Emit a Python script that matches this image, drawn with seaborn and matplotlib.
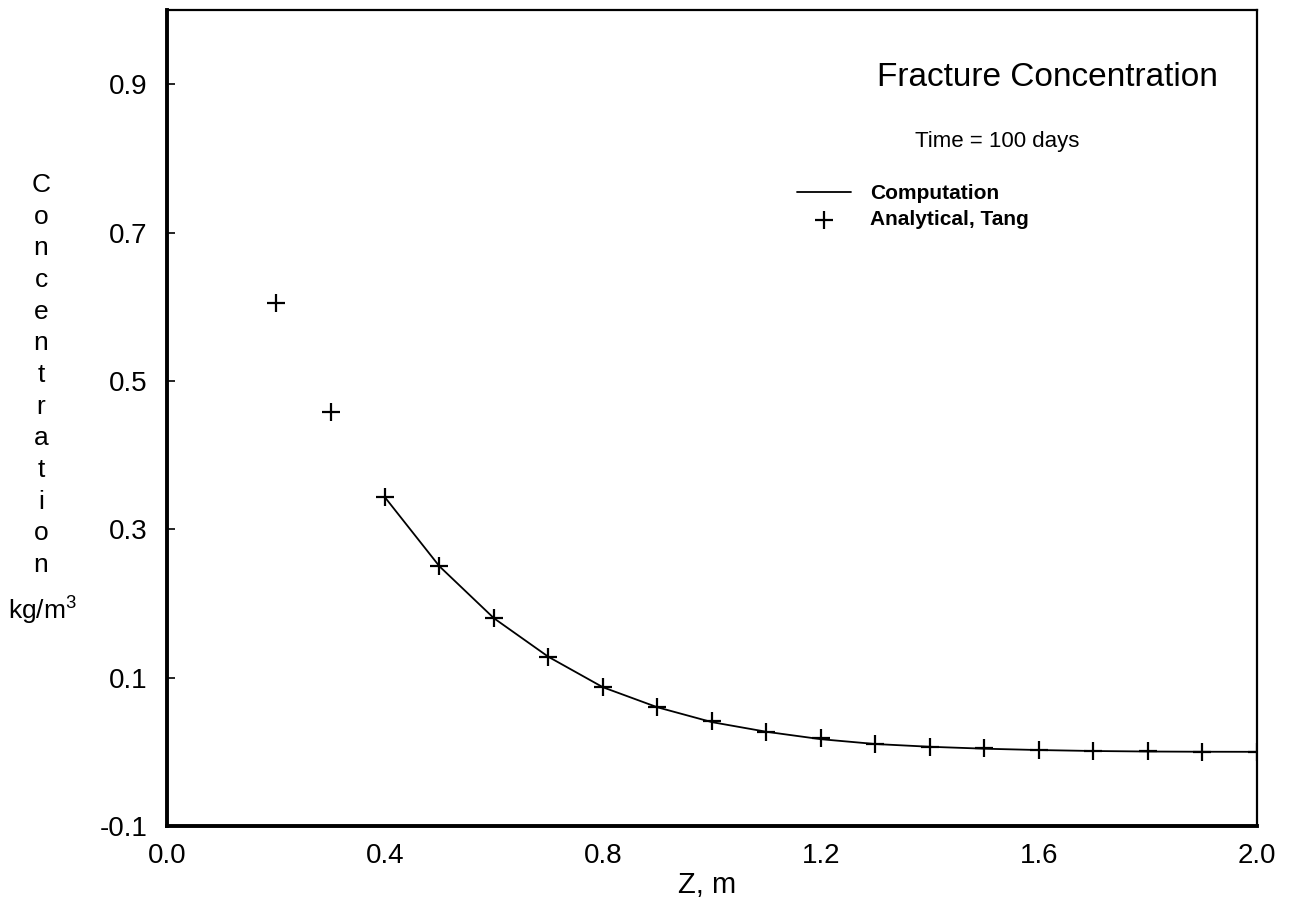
import numpy as np
import pandas as pd
import matplotlib
matplotlib.use("Agg")
import matplotlib.pyplot as plt
import seaborn as sns

# ---- data ----
analytical_z = [0.2, 0.3, 0.4, 0.5, 0.6, 0.7, 0.8, 0.9, 1.0, 1.1, 1.2, 1.3, 1.4, 1.5, 1.6, 1.7, 1.8, 1.9, 2.0]
analytical_c = [0.605, 0.458, 0.343, 0.250, 0.180, 0.128, 0.087, 0.060, 0.041, 0.027, 0.018, 0.011,
                0.007, 0.0045, 0.0025, 0.0012, 0.0005, 0.0002, 0.0]
computation_z = [0.4, 0.5, 0.6, 0.7, 0.8, 0.9, 1.0, 1.1, 1.2, 1.3, 1.4, 1.5, 1.6, 1.7, 1.8, 1.9, 2.0]
computation_c = [0.343, 0.250, 0.180, 0.128, 0.087, 0.060, 0.040, 0.027, 0.017, 0.0105, 0.0068,
                 0.0042, 0.0024, 0.0011, 0.0004, 0.0001, 0.0]
x_ticks = [0.0, 0.4, 0.8, 1.2, 1.6, 2.0]
y_ticks = [-0.1, 0.1, 0.3, 0.5, 0.7, 0.9]
title_text = "Fracture Concentration"
subtitle_text = "Time = 100 days"
series_labels = ["Computation", "Analytical, Tang"]
ylabel_word = "Concentration"
ylabel_unit = "kg/m$^3$"
xlabel_text = "Z, m"

sns.set_theme(style="white")
plt.rcParams['font.family'] = ['Liberation Sans', 'DejaVu Sans']
plt.rcParams['mathtext.fontset'] = 'custom'
plt.rcParams['mathtext.rm'] = 'Liberation Sans'
plt.rcParams['text.color'] = 'black'

comp_df = pd.DataFrame({"z": computation_z, "c": computation_c})
ana_df = pd.DataFrame({"z": analytical_z, "c": analytical_c})

fig = plt.figure(figsize=(12.92, 9.14), dpi=100)
ax = fig.add_axes([167/1292, 1-826/914, (1257-167)/1292, (826-10)/914])

sns.lineplot(data=comp_df, x="z", y="c", ax=ax, color="black", linewidth=1.3,
             label=series_labels[0], legend=False)
sns.scatterplot(data=ana_df, x="z", y="c", ax=ax, color="black", marker="+", s=170,
                linewidth=1.6, label=series_labels[1], legend=False, zorder=3)

ax.set_xlim(0.0, 2.0)
ax.set_ylim(-0.1, 1.0)
ax.set_xticks(x_ticks)
ax.set_xticklabels([f"{v:.1f}" for v in x_ticks])
ax.set_yticks(y_ticks)
ax.set_yticklabels([f"{v:.1f}" for v in y_ticks])
ax.tick_params(axis="y", direction="in", length=6, width=1.2, labelsize=20, pad=14, color="black",
               left=True)
ax.tick_params(axis="x", direction="in", length=0, labelsize=20, pad=12)
for lbl in ax.get_xticklabels() + ax.get_yticklabels():
    lbl.set_color("black")
ax.set_xlabel("")
ax.set_ylabel("")

for side, lw in [("left", 2.8), ("bottom", 2.8), ("top", 1.6), ("right", 1.6)]:
    ax.spines[side].set_visible(True)
    ax.spines[side].set_color("black")
    ax.spines[side].set_linewidth(lw)

# titles
fig.text(1218/1292, 1-78/914, title_text, ha="right", va="center", fontsize=24, color="black")
fig.text(997/1292, 1-141/914, subtitle_text, ha="center", va="center", fontsize=16, color="black")

# legend
handles, labels = ax.get_legend_handles_labels()
leg = ax.legend(handles, labels, loc="upper left", bbox_to_anchor=(797/1292, 1-184/914),
                bbox_transform=fig.transFigure, frameon=False,
                handlelength=2.6, handletextpad=0.9, labelspacing=0.35, borderpad=0,
                borderaxespad=0, prop={"weight": "bold", "size": 15})
for t in leg.get_texts():
    t.set_color("black")

# stacked y label
n = len(ylabel_word)
top_y, bot_y = 185, 565
for i, ch in enumerate(ylabel_word):
    py = top_y + i * (bot_y - top_y) / (n - 1)
    fig.text(41/1292, 1-py/914, ch, ha="center", va="center", fontsize=19, color="black")
fig.text(42/1292, 1-610/914, ylabel_unit, ha="center", va="center", fontsize=19, color="black")

fig.text(707/1292, 1-885/914, xlabel_text, ha="center", va="center", fontsize=21, color="black")

fig.savefig("out.png", dpi=100, facecolor="white")
